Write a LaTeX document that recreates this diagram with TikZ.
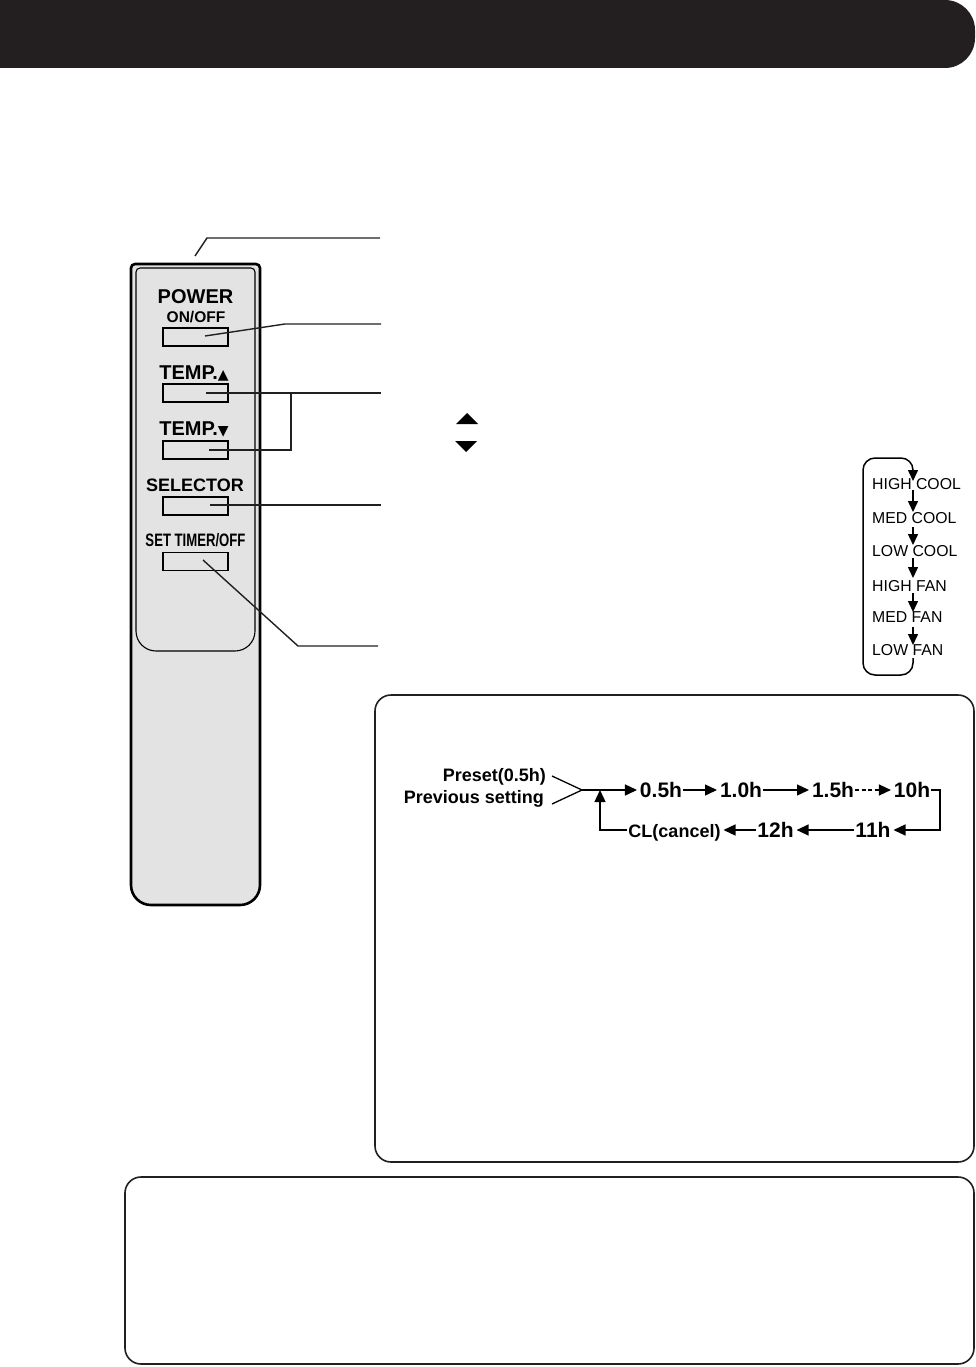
\documentclass[tikz,border=0pt]{standalone}
\usepackage{fontspec}
\setmainfont{Liberation Sans}
\usepackage{xcolor}
\usetikzlibrary{arrows.meta, positioning}
\definecolor{panelgray}{RGB}{227, 227, 227}
\definecolor{inkblack}{RGB}{35, 31, 32}
\tikzset{
    leader/.style={line width=1.4pt, color=inkblack},
    flowline/.style={line width=1.4pt, shorten >=2pt, -{Triangle[length=12pt, width=11pt]}},
    cycleline/.style={line width=1.5pt, -{Triangle[length=11pt, width=10pt]}},
    keybox/.style={draw, line width=1.5pt, minimum width=65pt, minimum height=18pt, inner sep=0pt},
    keylabel/.style={font=\bfseries\fontsize{20}{20}\selectfont, inner sep=0pt},
    timertext/.style={font=\bfseries\fontsize{21}{21}\selectfont, inner sep=0pt, outer sep=1pt, text height=14pt, text depth=0pt},
    settext/.style={font=\bfseries\fontsize{18}{18}\selectfont, inner sep=0pt},
    modetext/.style={font=\fontsize{15.8}{16}\selectfont, anchor=west, inner sep=0pt},
    notebox/.style={draw, line width=1.6pt, rounded corners=16pt, color=inkblack}
}
\begin{document}
\begin{tikzpicture}[x=1pt, y=-1pt]
    \useasboundingbox (0, 0) rectangle (976, 1367);

    % header bar
    \fill[inkblack] (0, 0) [rounded corners=30pt] -- (975, 0) -- (975, 68) [rounded corners=0pt] -- (0, 68) -- cycle;

    % remote control body
    \draw[line width=2.6pt, fill=panelgray] (131, 500) [rounded corners=4pt] -- (131, 264) -- (260, 264) [rounded corners=20pt] -- (260, 905) -- (131, 905) -- cycle;
    \draw[line width=1.1pt] (136, 500) [rounded corners=4pt] -- (136, 268) -- (255, 268) [rounded corners=20pt] -- (255, 651) -- (136, 651) -- cycle;

    \node[keybox] (powerkey) at (195.5, 337) {};
    \node[keybox] (tempupkey) at (195.5, 393) {};
    \node[keybox] (tempdownkey) at (195.5, 450) {};
    \node[keybox] (selectorkey) at (195.5, 506) {};
    \node[keybox] (timerkey) at (195.5, 561.5) {};

    \node[keylabel] (powerlabel) at (195.5, 297) {POWER};
    \node[keylabel, font=\bfseries\fontsize{15.5}{16}\selectfont] (onofflabel) at (196, 317) {ON/OFF};
    \node[keylabel] (templabela) at (194, 373) {TEMP.\fontspec{DejaVu Sans}\fontsize{14}{14}\selectfont ▲};
    \node[keylabel] (templabelb) at (194, 429) {TEMP.\fontspec{DejaVu Sans}\fontsize{14}{14}\selectfont ▼};
    \node[keylabel, font=\bfseries\fontsize{18}{18}\selectfont] (selectorlabel) at (195, 485) {SELECTOR};
    \node[keylabel, font=\bfseries\fontsize{18}{18}\selectfont, xscale=0.73] (timerlabel) at (195.5, 540) {SET TIMER/OFF};

    % leader lines
    \coordinate (cbody) at (195, 256);
    \coordinate (cbodyknee) at (207, 238);
    \coordinate (cbodyend) at (380, 238);
    \coordinate (cpower) at (205, 336);
    \coordinate (cpowerknee) at (285, 324);
    \coordinate (cpowerend) at (381, 324);
    \coordinate (ctempup) at (206, 393);
    \coordinate (ctempknee) at (291, 393);
    \coordinate (ctempend) at (381, 393);
    \coordinate (ctempdown) at (209, 450);
    \coordinate (ctempdownknee) at (291, 450);
    \coordinate (cselector) at (210, 505);
    \coordinate (cselectorend) at (381, 505);
    \coordinate (ctimer) at (203, 560);
    \coordinate (ctimerknee) at (298, 646);
    \coordinate (ctimerend) at (378, 646);
    \draw[leader] (cbody) -- (cbodyknee) -- (cbodyend);
    \draw[leader] (cpower) -- (cpowerknee) -- (cpowerend);
    \draw[leader] (ctempup) -- (ctempend);
    \draw[leader] (ctempdown) -- (ctempdownknee) -- (ctempknee);
    \draw[leader] (cselector) -- (cselectorend);
    \draw[leader] (ctimer) -- (ctimerknee) -- (ctimerend);

    % temperature symbols
    \fill (456, 424) -- (467, 413) -- (478, 424) -- cycle;
    \fill (455, 441) -- (477, 441) -- (466, 452) -- cycle;

    % mode cycle
    \node[modetext] (highcool) at (872, 484) {HIGH COOL};
    \node[modetext] (medcool) at (872, 518) {MED COOL};
    \node[modetext] (lowcool) at (872, 551) {LOW COOL};
    \node[modetext] (highfan) at (872, 586) {HIGH FAN};
    \node[modetext] (medfan) at (872, 617) {MED FAN};
    \node[modetext] (lowfan) at (872, 650) {LOW FAN};
    \coordinate (cyclestart) at (913, 658);
    \coordinate (cycletip) at (913, 481);
    \draw[cycleline, rounded corners=12pt] (cyclestart) -- (913, 675) -- (863, 675) -- (863, 458) -- (913, 458) -- (cycletip);
    \foreach \ya/\yb in {490/512, 527/545, 558/578, 593/612, 627/645}
        \draw[cycleline] (913, \ya) -- (913, \yb);

    % note boxes
    \draw[notebox] (375, 695) rectangle (974, 1162);
    \draw[notebox] (125, 1177) rectangle (974, 1364);

    % timer chart
    \node[settext, anchor=east] (preset) at (546, 777) {Preset(0.5h)};
    \node[settext, anchor=east] (previous) at (544, 799) {Previous setting};
    \coordinate (cjoin) at (582, 790);
    \coordinate (cpreset) at (552, 776);
    \coordinate (cprevious) at (552, 804);
    \draw[line width=1.3pt] (cpreset) -- (cjoin) -- (cprevious);

    \node[timertext] (tzero) at (661, 790) {0.5h};
    \node[timertext] (tone) at (741, 790) {1.0h};
    \node[timertext] (tonehalf) at (833, 790) {1.5h};
    \node[timertext] (tten) at (912, 790) {10h};
    \node[timertext] (televen) at (873, 830) {11h};
    \node[timertext] (ttwelve) at (775.5, 830) {12h};
    \node[timertext, font=\bfseries\fontsize{18}{18}\selectfont] (tcancel) at (674.5, 830) {CL(cancel)};

    \draw[flowline] (cjoin) -- (tzero);
    \draw[flowline] (tzero) -- (tone);
    \draw[flowline] (tone) -- (tonehalf);
    \draw[flowline, dash pattern=on 4pt off 2.5pt] (tonehalf) -- (tten);
    \coordinate (cturn) at (940, 790);
    \coordinate (cturnlow) at (940, 830);
    \draw[flowline] (tten) -- (cturn) -- (cturnlow) -- (televen);
    \draw[flowline] (televen) -- (ttwelve);
    \draw[flowline] (ttwelve) -- (tcancel);
    \coordinate (cback) at (600, 830);
    \coordinate (cbacktip) at (600, 788);
    \draw[flowline] (tcancel) -- (cback) -- (cbacktip);
\end{tikzpicture}
\end{document}
